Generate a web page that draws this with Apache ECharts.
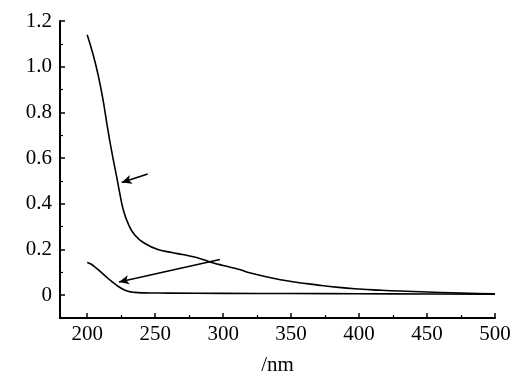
<!DOCTYPE html>
<html>
<head>
<meta charset="utf-8">
<script src="https://cdn.jsdelivr.net/npm/echarts@6/dist/echarts.min.js"></script>
<style>html,body{margin:0;padding:0;background:#fff}#c{width:532px;height:384px}</style>
</head>
<body>
<div id="c"></div>
<script>
// Wavelength (nm) and absorbance for the upper curve
const upperX = [200,204.5,208,211.5,214.5,218,221.7,224,226.5,230,235,242.5,252,263,270,278,285,293,300,312,320,335,350,370,385,400,415,430,450,475,500];
const upperY = [1.14,1.05,0.965,0.86,0.75,0.63,0.518,0.445,0.375,0.315,0.263,0.226,0.200,0.186,0.178,0.168,0.156,0.141,0.130,0.112,0.097,0.076,0.060,0.044,0.034,0.027,0.022,0.018,0.014,0.009,0.006];
// Lower curve
const lowerX = [200,203,206,210,214,218,222,226,230,235,241,260,300,350,400,450,500];
const lowerY = [0.143,0.135,0.122,0.102,0.080,0.060,0.042,0.027,0.017,0.012,0.010,0.009,0.008,0.007,0.006,0.005,0.004];
// Axis ticks and labels
const xMajor = [200,250,300,350,400,450,500];
const xMinor = [225,275,325,375,425,475];
const yMajor = [0,0.2,0.4,0.6,0.8,1.0,1.2];
const yMinor = [-0.1,0.1,0.3,0.5,0.7,0.9,1.1];
const xName = '/nm';
// Annotation arrows: [tailX, tailY, tipX, tipY]
const arrow1 = [244.5,0.530,225.4,0.493];
const arrow2 = [297.6,0.156,223.4,0.058];

const font = 'Liberation Serif';
const toPairs = (xs, ys) => xs.map((x, i) => [x, ys[i]]);
const fmtY = v => (Math.abs(v) < 1e-9 ? '0' : v.toFixed(1));

const chart = echarts.init(document.getElementById('c'));
const xBase = {type:'value', min:180, max:500, splitLine:{show:false}};
const yBase = {type:'value', min:-0.1, max:1.2, splitLine:{show:false}};
chart.setOption({
  animation:false,
  backgroundColor:'#fff',
  grid:{left:60, right:37, top:21, bottom:66},
  xAxis:[
    Object.assign({}, xBase, {
      name:xName, nameLocation:'middle', nameGap:37,
      nameTextStyle:{fontFamily:font, fontSize:21, color:'#000'},
      axisLine:{onZero:false, lineStyle:{color:'#000', width:2}},
      axisTick:{inside:true, length:5, customValues:xMajor, lineStyle:{color:'#000', width:1.5}},
      axisLabel:{customValues:xMajor, fontFamily:font, fontSize:21, color:'#000', margin:6}
    }),
    Object.assign({}, xBase, {
      position:'bottom',
      axisLine:{show:false, onZero:false},
      axisTick:{inside:true, length:3, customValues:xMinor, lineStyle:{color:'#000', width:1.2}},
      axisLabel:{show:false}
    })
  ],
  yAxis:[
    Object.assign({}, yBase, {
      axisLine:{show:true, onZero:false, lineStyle:{color:'#000', width:2}},
      axisTick:{show:true, inside:true, length:5, customValues:yMajor, lineStyle:{color:'#000', width:1.5}},
      axisLabel:{customValues:yMajor, formatter:fmtY, fontFamily:font, fontSize:21, color:'#000', margin:8}
    }),
    Object.assign({}, yBase, {
      position:'left',
      axisLine:{show:false, onZero:false},
      axisTick:{show:true, inside:true, length:3, customValues:yMinor, lineStyle:{color:'#000', width:1.2}},
      axisLabel:{show:false}
    })
  ],
  series:[
    {
      type:'line', data:toPairs(upperX, upperY), smooth:0.5, showSymbol:false,
      lineStyle:{color:'#000', width:1.6}, itemStyle:{color:'#000'},
      markLine:{
        silent:true, symbol:['none','arrow'], symbolSize:[7,10],
        label:{show:false}, lineStyle:{color:'#000', width:1.5, type:'solid'},
        data:[
          [{coord:[arrow1[0],arrow1[1]]},{coord:[arrow1[2],arrow1[3]]}],
          [{coord:[arrow2[0],arrow2[1]]},{coord:[arrow2[2],arrow2[3]]}]
        ]
      }
    },
    {
      type:'line', data:toPairs(lowerX, lowerY), smooth:0.5, showSymbol:false,
      lineStyle:{color:'#000', width:1.6}, itemStyle:{color:'#000'}
    }
  ]
});
</script>
</body>
</html>
